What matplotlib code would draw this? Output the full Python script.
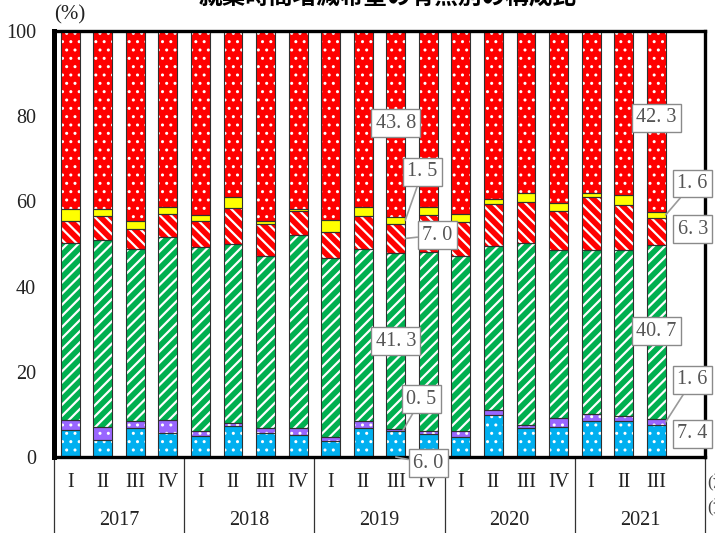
import matplotlib
matplotlib.use("Agg")
import matplotlib.pyplot as plt
import numpy as np
from matplotlib.transforms import blended_transform_factory

# 期間（年・四半期）
years = ["2017", "2018", "2019", "2020", "2021"]
quarters = ["I", "II", "III", "IV"]
quarter_labels = (quarters * 5)[:19]

# 構成比（%）下から順に積み上げ
seg_blue = [6.4, 3.9, 6.7, 5.7, 5.0, 7.3, 5.7, 5.1, 3.7, 6.9, 6.0, 5.3, 4.6, 9.8, 6.7, 7.1, 8.4, 8.5, 7.4]
seg_purple = [2.2, 3.2, 1.8, 3.1, 1.1, 0.6, 1.2, 1.6, 1.0, 1.6, 0.5, 0.9, 1.5, 1.3, 0.9, 2.1, 1.8, 1.2, 1.6]
seg_green = [41.6, 43.8, 40.3, 42.9, 43.2, 42.0, 40.3, 45.3, 42.1, 40.4, 41.3, 41.9, 41.2, 38.4, 42.7, 39.3, 38.5, 39.0, 40.7]
seg_redhatch = [5.1, 5.7, 4.7, 5.3, 6.2, 8.6, 7.6, 5.8, 6.1, 7.6, 7.0, 8.6, 7.9, 10.0, 9.6, 9.2, 12.3, 10.5, 6.3]
seg_yellow = [2.8, 1.5, 2.0, 1.8, 1.2, 2.5, 0.5, 0.4, 2.7, 2.2, 1.5, 2.0, 1.9, 1.1, 2.1, 2.0, 1.0, 2.2, 1.6]
seg_reddot = [41.9, 41.9, 44.5, 41.2, 43.3, 39.0, 44.7, 41.8, 44.4, 41.3, 43.8, 41.3, 42.9, 39.4, 38.0, 40.3, 38.0, 38.6, 42.3]

series = [seg_blue, seg_purple, seg_green, seg_redhatch, seg_yellow, seg_reddot]
styles = [
    dict(color="#00B0F0", hatch="..", hlw=1.0),
    dict(color="#9966FF", hatch="..", hlw=1.0),
    dict(color="#00B050", hatch="///", hlw=1.6),
    dict(color="#FF0000", hatch="\\\\\\", hlw=1.6),
    dict(color="#FFFF00", hatch=None, hlw=1.0),
    dict(color="#FF0000", hatch="..", hlw=1.0),
]

serif = ["Liberation Serif", "DejaVu Serif"]
plt.rcParams["font.family"] = serif

fig = plt.figure(figsize=(7.15, 5.33), dpi=100)
ax = fig.add_axes([54 / 715, 76 / 533, 651 / 715, 426 / 533])

x = np.arange(len(seg_blue))
width = 0.58
bottom = np.zeros(len(x))
for vals, st in zip(series, styles):
    vals = np.asarray(vals)
    with plt.rc_context({"hatch.linewidth": st["hlw"]}):
        bars = ax.bar(x, vals, width, bottom=bottom, color=st["color"],
                      edgecolor="white", linewidth=0, hatch=st["hatch"], zorder=2)
        for b in bars:
            if hasattr(b, "set_hatch_linewidth"):
                b.set_hatch_linewidth(st["hlw"])
    ax.bar(x, vals, width, bottom=bottom, fill=False, edgecolor="#303030",
           linewidth=0.8, zorder=3)
    bottom += vals

ax.set_xlim(-0.5, 19.5)
ax.set_ylim(0, 100)
ax.set_yticks(np.arange(0, 101, 20))
ax.tick_params(axis="y", length=0, pad=13, labelsize=14.5, labelcolor="#222222")
ax.set_xticks([])
for s in ax.spines.values():
    s.set_linewidth(2.4)
    s.set_color("black")
    s.set_zorder(5)
ax.spines["left"].set_linewidth(3.6)

# 四半期と年の目盛
trans = blended_transform_factory(ax.transData, ax.transAxes)
for i, q in enumerate(quarter_labels):
    ax.text(i, -0.061, q, transform=trans, ha="center", va="center",
            fontsize=14.5, color="#222222")
for k, yr in enumerate(years):
    ax.text(4 * k + 1.5, -0.150, yr, transform=trans, ha="center", va="center",
            fontsize=14.5, color="#222222")
for b in np.arange(-0.5, 20, 4):
    ax.plot([b, b], [0, -0.25], transform=trans, color="#333333", lw=0.9,
            clip_on=False, zorder=1)

fig.text(70 / 715, 1 - 15 / 533, "(%)", ha="center", va="center", fontsize=15,
         color="#222222")
fig.text(388 / 715, 1 - 5 / 533, "就業時間増減希望の有無別の構成比",
         ha="center", va="baseline", fontsize=17, fontweight="bold",
         family=["Noto Sans CJK JP", "DejaVu Sans"])

# 右端の注記
fig.text(707 / 715, 1 - 483 / 533, "(注", ha="left", va="center", fontsize=12,
         color="#444444", family=["Liberation Serif", "Noto Sans CJK JP"])
fig.text(707 / 715, 1 - 507 / 533, "(資", ha="left", va="center", fontsize=12,
         color="#444444", family=["Liberation Serif", "Noto Sans CJK JP"])


def fmt(v):
    return f"{v:.1f}".replace(".", ". ")


box = dict(boxstyle="square,pad=0.22", fc="white", ec="#8a8a8a", lw=1.0)
lead = dict(arrowstyle="-", color="#9a9a9a", lw=1.2, shrinkA=0, shrinkB=0)


def label(i, k, tx, ty, point=None):
    v = series[k][i]
    kw = dict(xytext=(tx, ty), textcoords="data", ha="center", va="center",
              fontsize=14.5, color="#555555", bbox=box, zorder=10,
              annotation_clip=False)
    if point is not None:
        ax.annotate(fmt(v), xy=point, xycoords="data", arrowprops=lead, **kw)
    else:
        ax.annotate(fmt(v), xy=(tx, ty), xycoords="data", **kw)


cum = np.cumsum(np.array(series), axis=0)
i = 10
label(i, 5, i, 78.4)
label(i, 4, 10.82, 67.0, (i + 0.29, cum[3][i] + seg_yellow[i] / 2))
label(i, 3, 11.28, 52.1, (i + 0.29, cum[2][i] + seg_redhatch[i] / 2))
label(i, 2, i, 27.2)
label(i, 1, 10.78, 13.6, (i + 0.22, cum[0][i] + seg_purple[i] / 2))
label(i, 0, 11.0, -1.5, (i, 0.0))
i = 18
label(i, 5, i, 79.6)
label(i, 4, 19.12, 64.2, (i + 0.29, cum[3][i] + seg_yellow[i] / 2))
label(i, 3, 19.12, 53.5)
label(i, 2, i, 29.5)
label(i, 1, 19.12, 18.1, (i + 0.29, cum[0][i] + seg_purple[i] / 2))
label(i, 0, 19.12, 5.5)

fig.savefig("out.png", dpi=100)
